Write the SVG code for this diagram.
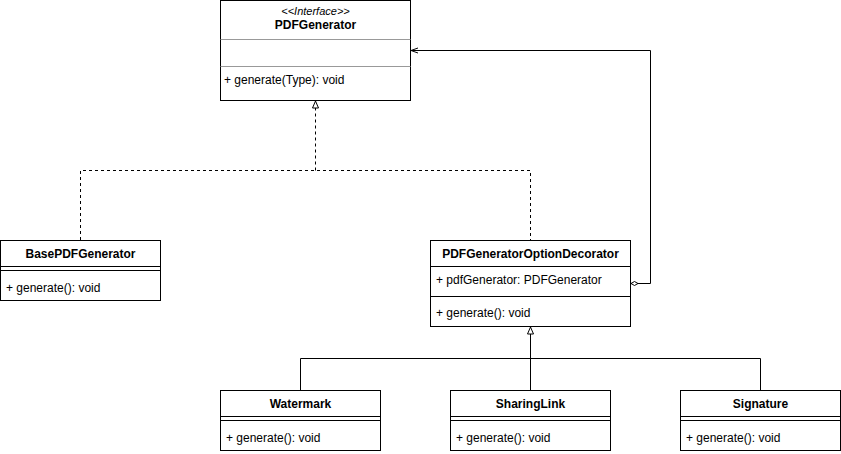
<svg xmlns="http://www.w3.org/2000/svg" width="841" height="454" viewBox="0 0 841 454">
<style>
.box{fill:#fff;stroke:#000;stroke-width:1}
.sep{stroke:#000;stroke-width:1;fill:none}
.sep2{stroke:#999;stroke-width:1;fill:none}
.t{font-family:"Liberation Sans",Arial,sans-serif;font-size:12px;fill:#000}
.b{font-weight:bold;text-anchor:middle}
.i{font-style:italic;text-anchor:middle;font-size:11px}
.ln{stroke:#000;stroke-width:1;fill:none}
.dash{stroke-dasharray:3,3}
</style>
<defs>
<marker id="tri" markerWidth="10" markerHeight="10" refX="7.5" refY="4" orient="auto" markerUnits="userSpaceOnUse" viewBox="0 0 10 10">
<path d="M0.5,1 L7.5,4 L0.5,7 Z" fill="#fff" stroke="#000" stroke-width="1"/>
</marker>
<marker id="open" markerWidth="10" markerHeight="10" refX="7.5" refY="4" orient="auto" markerUnits="userSpaceOnUse" viewBox="0 0 10 10">
<path d="M0.5,1.5 L7.5,4 L0.5,6.5" fill="none" stroke="#000" stroke-width="1"/>
</marker>
<marker id="dia" markerWidth="12" markerHeight="8" refX="0.5" refY="3" orient="auto" markerUnits="userSpaceOnUse" viewBox="0 0 12 8">
<path d="M0.5,3 L4,1 L7.5,3 L4,5 Z" fill="#fff" stroke="#000" stroke-width="1"/>
</marker>
</defs>
<g id="connectors">
<path class="ln dash" d="M80.5,240 V170.5 H530.5 V240"/>
<path class="ln dash" d="M315.5,170.5 V101" marker-end="url(#tri)"/>
<path class="ln" d="M300.5,390 V358.5 H760.5 V390"/>
<path class="ln" d="M530.5,390 V327" marker-end="url(#tri)"/>
<path class="ln" d="M631,283.5 H650.5 V50.5 H411" marker-start="url(#dia)" marker-end="url(#open)"/>
</g>
<g id="PDFGenerator">
<rect class="box" x="220.5" y="0.5" width="190" height="100"/>
<line class="sep2" x1="220.5" y1="39.5" x2="410.5" y2="39.5"/>
<line class="sep2" x1="220.5" y1="66.5" x2="410.5" y2="66.5"/>
<text class="t i" x="315.5" y="15">&lt;&lt;Interface&gt;&gt;</text>
<text class="t b" x="315.5" y="29">PDFGenerator</text>
<text class="t" x="224" y="84">+ generate(Type): void</text>
</g>
<g id="BasePDFGenerator">
<rect class="box" x="0.5" y="240.5" width="160" height="60"/>
<line class="sep" x1="0.5" y1="266.5" x2="160.5" y2="266.5"/>
<line class="sep" x1="0.5" y1="270.5" x2="160.5" y2="270.5"/>
<text class="t b" x="80.5" y="258">BasePDFGenerator</text>
<text class="t" x="6" y="292">+ generate(): void</text>
</g>
<g id="PDFGeneratorOptionDecorator">
<rect class="box" x="430.5" y="240.5" width="200" height="86"/>
<line class="sep" x1="430.5" y1="266.5" x2="630.5" y2="266.5"/>
<line class="sep" x1="430.5" y1="296.5" x2="630.5" y2="296.5"/>
<text class="t b" x="530.5" y="258">PDFGeneratorOptionDecorator</text>
<text class="t" x="436" y="284">+ pdfGenerator: PDFGenerator</text>
<text class="t" x="436" y="317">+ generate(): void</text>
</g>
<g id="Watermark">
<rect class="box" x="220.5" y="390.5" width="160" height="60"/>
<line class="sep" x1="220.5" y1="416.5" x2="380.5" y2="416.5"/>
<line class="sep" x1="220.5" y1="420.5" x2="380.5" y2="420.5"/>
<text class="t b" x="300.5" y="408">Watermark</text>
<text class="t" x="226" y="442">+ generate(): void</text>
</g>
<g id="SharingLink">
<rect class="box" x="450.5" y="390.5" width="160" height="60"/>
<line class="sep" x1="450.5" y1="416.5" x2="610.5" y2="416.5"/>
<line class="sep" x1="450.5" y1="420.5" x2="610.5" y2="420.5"/>
<text class="t b" x="530.5" y="408">SharingLink</text>
<text class="t" x="456" y="442">+ generate(): void</text>
</g>
<g id="Signature">
<rect class="box" x="680.5" y="390.5" width="160" height="60"/>
<line class="sep" x1="680.5" y1="416.5" x2="840.5" y2="416.5"/>
<line class="sep" x1="680.5" y1="420.5" x2="840.5" y2="420.5"/>
<text class="t b" x="760.5" y="408">Signature</text>
<text class="t" x="686" y="442">+ generate(): void</text>
</g>
</svg>
